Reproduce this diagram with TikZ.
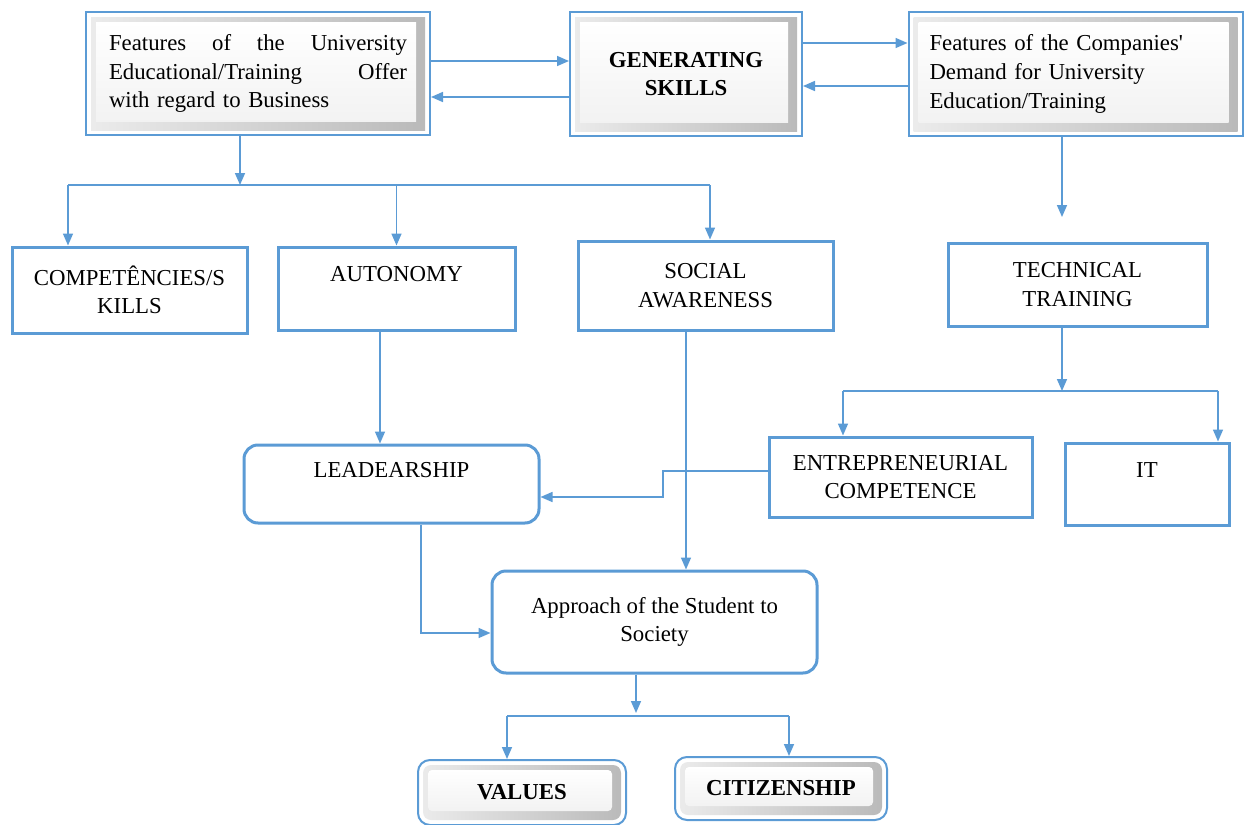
\documentclass[tikz,border=0pt]{standalone}
\usepackage{fontspec}
\setmainfont{Liberation Serif}
\usetikzlibrary{arrows.meta, positioning, calc}
\definecolor{boxblue}{RGB}{91,155,213}

\begin{document}
\begin{tikzpicture}[
    x=0.5pt, y=-0.5pt,
    font=\fontsize{11.4}{14.3}\selectfont,
    box/.style={rectangle, draw=boxblue, line width=1.5pt, fill=white, align=center, inner sep=0pt},
    roundbox/.style={box, rounded corners=7pt},
    bevel/.style={rectangle, draw=boxblue, line width=1pt, fill=white, align=center, inner sep=0pt,
        path picture={
            \shade[left color=gray!15, right color=gray!55]
                ([shift={(2.5pt,-2.5pt)}]path picture bounding box.north west) rectangle ([shift={(-2.5pt,2.5pt)}]path picture bounding box.south east);
            \shade[top color=white, bottom color=gray!10]
                ([shift={(5pt,-5pt)}]path picture bounding box.north west) rectangle ([shift={(-7pt,7pt)}]path picture bounding box.south east);
        }},
    rbevel/.style={rectangle, rounded corners=6pt, draw=boxblue, line width=1pt, fill=white, align=center, inner sep=0pt,
        path picture={
            \shade[rounded corners=4pt, left color=gray!15, right color=gray!55]
                ([shift={(2.5pt,-2.5pt)}]path picture bounding box.north west) rectangle ([shift={(-2.5pt,2.5pt)}]path picture bounding box.south east);
            \shade[rounded corners=2pt, top color=white, bottom color=gray!10]
                ([shift={(5pt,-5pt)}]path picture bounding box.north west) rectangle ([shift={(-7pt,7pt)}]path picture bounding box.south east);
        }},
    arrow/.style={-{Triangle[length=6pt, width=5pt]}, draw=boxblue, line width=0.8pt},
    line/.style={draw=boxblue, line width=0.8pt}
  ]
    \useasboundingbox (0,0) rectangle (1244,825);

    % top row
    \node[bevel, minimum width=172pt, minimum height=61.5pt, text width=149pt, align=left] (univ) at (258,73.5)
        {Features\hfill of\hfill the\hfill University\\Educational/Training\hfill Offer\\with regard to Business};
    \node[bevel, minimum width=116pt, minimum height=62pt] (gen) at (686,74) {\textbf{GENERATING}\\\textbf{SKILLS}};
    \node[bevel, minimum width=167pt, minimum height=62pt, text width=146pt, align=left] (comp) at (1075.5,74)
        {Features of the Companies\textquotesingle\\Demand for University\\Education/Training};

    % second row
    \node[box, minimum width=117.5pt, minimum height=43pt] (compet) at (129.5,290) {COMPETÊNCIES/S\\KILLS};
    \node[box, minimum width=118.5pt, minimum height=41.5pt] (auton) at (396.5,288.5) {AUTONOMY\\\mbox{}};
    \node[box, minimum width=127.5pt, minimum height=44.5pt] (social) at (705.5,285.5) {SOCIAL\\AWARENESS};
    \node[box, minimum width=129.5pt, minimum height=41.5pt] (tech) at (1077.5,284.5) {TECHNICAL\\TRAINING};

    % third row
    \node[box, minimum width=131.5pt, minimum height=40pt] (entre) at (900.5,477) {ENTREPRENEURIAL\\COMPETENCE};
    \node[box, minimum width=82pt, minimum height=41pt] (it) at (1147,484) {IT\\\mbox{}};
    \node[roundbox, minimum width=147.5pt, minimum height=39pt] (lead) at (391.5,484) {LEADEARSHIP\\\mbox{}};
    \node[roundbox, minimum width=162.5pt, minimum height=51pt] (appr) at (654.5,622) {Approach of the Student to\\Society};

    % bottom row
    \node[rbevel, minimum width=104pt, minimum height=32.5pt] (values) at (522,792.5) {\textbf{VALUES}};
    \node[rbevel, minimum width=106pt, minimum height=31.5pt] (citiz) at (781,788.5) {\textbf{CITIZENSHIP}};

    \coordinate (split1) at (240,185);
    \coordinate (bar1L) at (68,185);
    \coordinate (bar1R) at (710,185);
    \coordinate (tip2) at (1062,217);
    \coordinate (split2) at (1062,391);
    \coordinate (bar2L) at (843,391);
    \coordinate (bar2R) at (1218,391);
    \coordinate (split3) at (636,713);
    \coordinate (bar3L) at (507,716);
    \coordinate (bar3R) at (789,716);

    \draw[arrow] (univ.east |- 0,61) -- (gen.west |- 0,61);
    \draw[arrow] (gen.west |- 0,97) -- (univ.east |- 0,97);
    \draw[arrow] (gen.east |- 0,43) -- (comp.west |- 0,43);
    \draw[arrow] (comp.west |- 0,86) -- (gen.east |- 0,86);

    \draw[arrow] (univ.south -| split1) -- (split1);
    \draw[line] (bar1L) -- (bar1R);
    \draw[arrow] (bar1L) -- (compet.north -| bar1L);
    \draw[arrow] (auton.north |- bar1L) -- (auton.north);
    \draw[arrow] (bar1R) -- (social.north -| bar1R);

    \draw[arrow] (comp.south -| tip2) -- (tip2);
    \draw[arrow] (tech.south -| split2) -- (split2);
    \draw[line] (bar2L) -- (bar2R);
    \draw[arrow] (bar2L) -- (entre.north -| bar2L);
    \draw[arrow] (bar2R) -- (it.north -| bar2R);

    \draw[arrow] (auton.south -| 380,0) -- (lead.north -| 380,0);
    \draw[arrow] (entre.west |- 0,471) -| (663,497) -- (lead.east |- 0,497);
    \draw[arrow] (social.south -| 686,0) -- (appr.north -| 686,0);
    \draw[arrow] (lead.south -| 421,0) |- (appr.west |- 0,633);

    \draw[arrow] (appr.south -| split3) -- (split3);
    \draw[line] (bar3L) -- (bar3R);
    \draw[arrow] (bar3L) -- (values.north -| bar3L);
    \draw[arrow] (bar3R) -- (citiz.north -| bar3R);
\end{tikzpicture}
\end{document}
